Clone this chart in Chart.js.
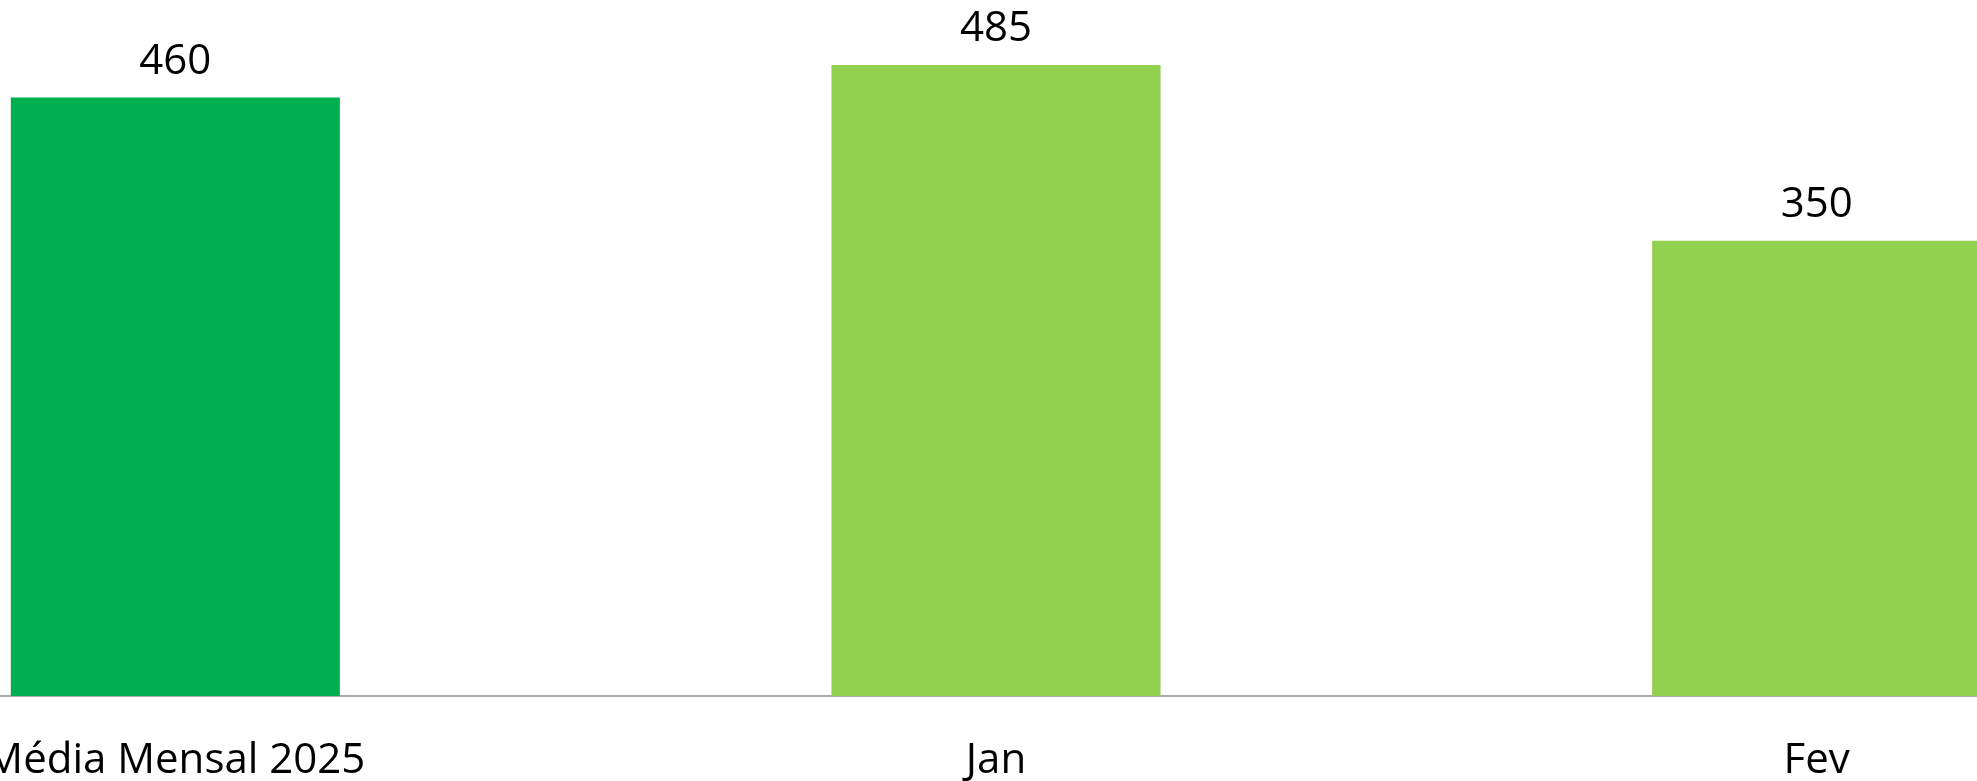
<!DOCTYPE html>
<html lang="pt">
<head>
<meta charset="utf-8">
<title>Média Mensal</title>
<script src="https://cdn.jsdelivr.net/npm/chart.js@4/dist/chart.umd.min.js"></script>
<style>
  html, body { margin: 0; padding: 0; background: #fff; overflow: hidden; }
  #wrap { position: relative; width: 1977px; height: 781px; overflow: hidden; }
  /* o gráfico original é mais largo que a janela: recortado dos dois lados */
  #chartMedia { position: absolute; left: -235px; top: 0; }
</style>
</head>
<body>
<div id="wrap">
  <canvas id="chartMedia" width="2462" height="781"></canvas>
</div>
<script>
// --------- Dados ----------
const categories = ["Média Mensal 2025", "Jan", "Fev"];
const values     = [460, 485, 350];
const barColors  = ["#00B050", "#92D050", "#92D050"];

const FONT = "'Open Sans', 'Noto Sans', sans-serif";

// rótulos de valor acima das barras
const valueLabels = {
  id: "valueLabels",
  afterDatasetsDraw(chart) {
    const { ctx } = chart;
    const meta = chart.getDatasetMeta(0);
    ctx.save();
    ctx.font = `42px ${FONT}`;
    ctx.fillStyle = "#000";
    ctx.textAlign = "center";
    ctx.textBaseline = "alphabetic";
    meta.data.forEach((bar, i) => {
      ctx.fillText(String(values[i]), bar.x, bar.y - 24);
    });
    ctx.restore();
  }
};

const ctx = document.getElementById("chartMedia");
new Chart(ctx, {
  type: "bar",
  data: {
    labels: categories,
    datasets: [{
      data: values,
      backgroundColor: barColors,
      borderWidth: 0,
      barPercentage: 0.401,
      categoryPercentage: 1
    }]
  },
  options: {
    responsive: false,
    animation: false,
    layout: { padding: 0 },
    plugins: { legend: { display: false }, tooltip: { enabled: false } },
    scales: {
      x: {
        grid: { display: false, drawTicks: false },
        border: { display: true, color: "#a8a8a8", width: 2 },
        ticks: { color: "#000", font: { family: FONT, size: 42 }, padding: 40, maxRotation: 0, autoSkip: false },
        afterFit: s => { s.height = 85; }
      },
      y: {
        display: false,
        min: 0,
        max: 535
      }
    }
  },
  plugins: [valueLabels]
});
</script>
</body>
</html>
